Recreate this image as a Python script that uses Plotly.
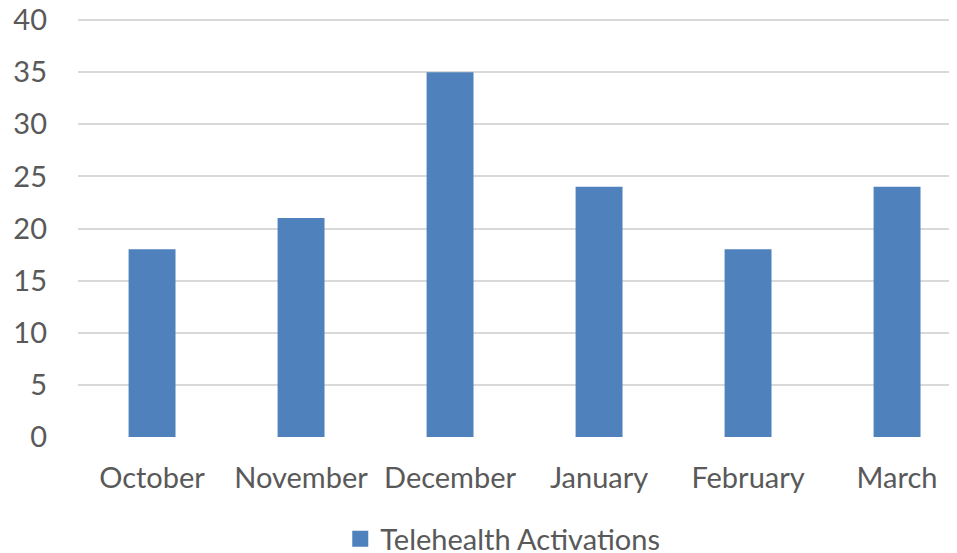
import plotly.graph_objects as go

months = ["October", "November", "December", "January", "February", "March"]
activations = [18, 21, 35, 24, 18, 24]
y_ticks = [0, 5, 10, 15, 20, 25, 30, 35, 40]
series_name = "Telehealth Activations"

FONT = "Lato, Calibri, Carlito, sans-serif"
TXT = "#595959"
BAR = "#4f81bd"
FS = 29

fig = go.Figure()
fig.add_trace(go.Bar(
    x=list(range(len(months))), y=activations, name=series_name,
    marker=dict(color=BAR, line=dict(width=0)),
    width=0.315, showlegend=False,
))
# legend entry with a larger square swatch
fig.add_trace(go.Scatter(
    x=[None], y=[None], mode="markers", name=series_name,
    marker=dict(symbol="square", size=18, color=BAR),
    showlegend=True,
))

fig.update_layout(
    width=957, height=553,
    margin=dict(l=70, r=0, t=4, b=124, autoexpand=False),
    paper_bgcolor="white", plot_bgcolor="white",
    font=dict(family=FONT, size=FS, color=TXT),
    xaxis=dict(
        tickmode="array", tickvals=list(range(len(months))), ticktext=months,
        range=[-0.497, 5.456], showgrid=False, zeroline=False, showline=False,
        ticks="", ticklabelstandoff=21, automargin=False,
        ticklabeloverflow="allow",
        tickfont=dict(family=FONT, size=FS, color=TXT),
    ),
    yaxis=dict(
        range=[0, 40.77], tickvals=y_ticks, showgrid=True, gridcolor="#d9d9d9",
        gridwidth=1.5, zeroline=False, showline=False, ticks="",
        ticklabelstandoff=30, automargin=False,
        ticklabeloverflow="allow",
        tickfont=dict(family=FONT, size=FS, color=TXT),
    ),
    legend=dict(
        orientation="h", xref="container", yref="container",
        x=0.517, y=0.04, xanchor="center", yanchor="middle",
        itemsizing="trace",
        font=dict(family=FONT, size=FS, color=TXT),
    ),
)

fig.write_html("out.html")
